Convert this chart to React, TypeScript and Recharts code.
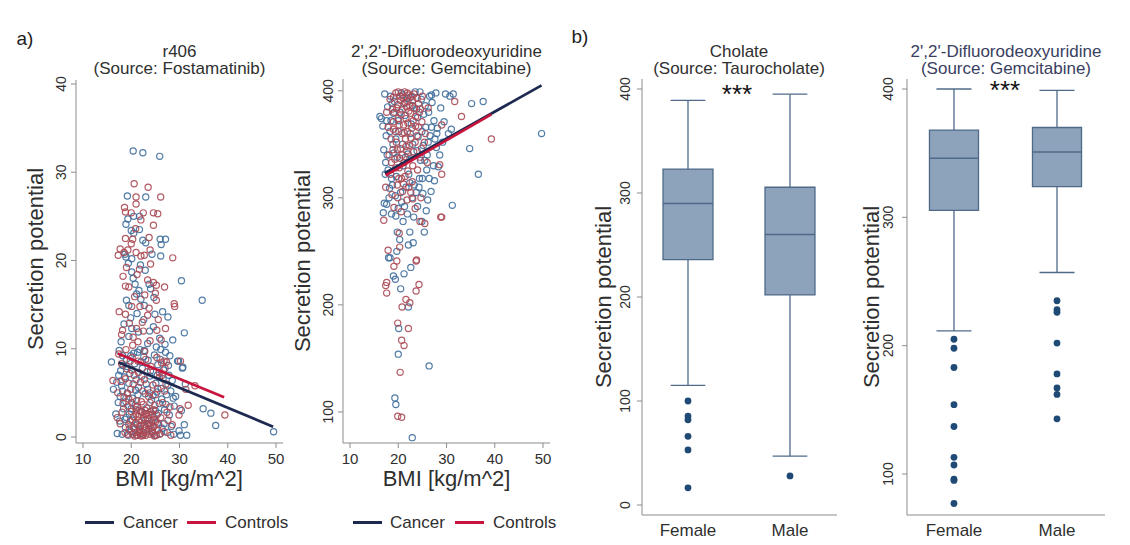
import React from 'react';
import { ComposedChart, Scatter, XAxis, YAxis, ReferenceArea, ReferenceLine } from 'recharts';

const FONT = '"Liberation Sans", Arial, Helvetica, sans-serif';
const TEXT = '#2f2f2f';
const AXIS = '#8c8c8c';
const BLUE_PT = '#3f6e9c';
const RED_PT = '#aa4954';
const NAVY = '#1d2950';
const CRIMSON = '#c8153d';
const BOX_FILL = '#8ca3bb';
const BOX_EDGE = '#4f6a88';
const OUTLIER = '#1f4a76';

type Pt = [number, number];

// ---------- tick labels / categories ----------
const bmiTicks = [10, 20, 30, 40, 50];
const r406Ticks = [0, 10, 20, 30, 40];
const gemScatterTicks = [100, 200, 300, 400];
const cholTicks = [0, 100, 200, 300, 400];
const gemBoxTicks = [100, 200, 300, 400];
const sexCategories = ['Female', 'Male'];
const seriesNames = ['Cancer', 'Controls'];

// ---------- panel a, left: r406 vs BMI ----------
const r406Cancer: Pt[] = [
  [20.4, 32.4], [22.4, 32.2], [25.9, 31.8],
  [19.2, 27.3], [23.0, 27.2], [20.5, 25.0], [19.3, 24.7], [21.7, 25.0], [18.9, 24.1], [20.0, 23.4], [21.7, 23.5],
  [20.5, 23.1], [22.4, 22.3], [26.0, 22.4], [27.1, 22.4], [23.0, 22.0], [26.2, 21.8], [18.7, 20.7], [24.3, 20.7],
  [26.1, 20.5], [18.9, 20.4], [20.1, 20.2],
  [19.4, 19.7], [20.1, 18.7], [20.4, 18.0], [23.7, 17.3], [30.4, 17.7], [21.6, 16.6], [21.1, 16.2], [24.7, 15.8],
  [34.7, 15.5], [19.5, 14.9], [22.7, 14.9], [21.2, 14.0], [22.6, 13.3], [27.6, 13.6], [20.1, 12.3], [24.6, 12.5],
  [31.0, 11.8], [19.5, 11.4], [28.6, 11.0], [23.4, 10.6], [25.2, 10.2],
  [15.9, 8.5], [16.3, 5.4], [29.8, 8.6], [30.7, 7.9], [29.6, 8.6], [30.6, 7.8], [31.2, 6.0], [34.9, 3.2], [36.5, 2.7],
  [37.5, 1.3], [49.5, 0.6], [28.9, 3.5], [30.4, 3.0], [31.0, 1.4], [29.9, 0.7], [31.5, 0.2], [30.2, 0.2], [29.2, 4.6],
  [17.5, 9.8], [18.2, 9.2], [19.0, 8.8], [20.5, 9.5], [21.8, 9.9], [22.6, 9.1], [23.5, 8.7], [24.8, 9.3], [25.5, 8.2],
  [26.7, 7.6], [27.8, 7.0], [28.5, 6.4], [17.8, 7.5], [18.6, 6.8], [19.7, 7.2], [21.0, 6.5], [22.3, 7.8], [23.9, 6.9],
  [25.1, 6.1], [26.2, 5.5], [27.3, 4.8], [18.0, 5.8], [19.2, 5.0], [20.3, 4.4], [21.5, 5.6], [22.9, 4.9], [24.2, 4.2],
  [25.8, 3.8], [26.9, 3.1], [27.9, 2.5], [17.3, 3.9], [18.4, 3.2], [19.6, 2.6], [20.8, 3.6], [22.0, 2.9], [23.2, 3.3],
  [24.6, 2.2], [25.4, 1.6], [26.4, 1.0], [27.5, 0.5], [17.6, 1.8], [18.8, 1.1], [20.0, 0.6], [21.2, 1.4], [22.5, 0.3],
  [23.7, 0.9], [24.9, 0.2], [26.0, 0.4], [28.3, 1.2], [28.8, 0.3], [17.1, 0.4], [19.4, 0.2], [21.7, 0.8], [23.0, 1.9],
  [25.6, 2.7], [26.6, 6.6], [27.1, 9.6], [28.2, 5.2], [18.3, 8.1], [20.7, 8.3],
  [18.1, 0.3], [19.0, 2.2], [20.2, 1.9], [21.1, 0.2], [26.8, 1.5], [27.2, 3.7], [25.3, 5.1], [24.0, 7.5], [22.0, 8.5],
  [19.9, 9.2], [21.3, 9.6], [23.1, 6.0], [17.0, 6.2], [16.8, 2.6], [27.7, 8.1], [26.1, 9.9], [28.7, 4.4], [18.9, 4.0],
  [20.9, 5.3], [24.5, 4.7],
  [18.5, 12.8], [19.9, 13.5], [21.5, 11.9], [23.8, 12.0], [25.9, 11.2], [22.0, 15.6], [24.0, 16.8], [20.8, 17.3],
  [22.9, 18.9], [19.0, 15.5], [26.5, 14.2], [21.9, 19.5], [17.9, 10.8], [24.9, 13.9], [27.0, 10.5],
  [17.7, 4.6], [18.7, 2.0], [19.5, 6.1], [20.6, 0.9], [21.4, 4.8], [22.2, 6.9], [23.4, 5.4], [24.3, 0.5], [25.0, 3.0],
  [26.3, 4.3], [27.6, 5.9], [19.1, 8.0], [22.7, 9.8], [25.4, 7.0], [26.0, 8.8], [28.0, 9.2], [20.0, 3.2], [23.6, 1.5],
  [17.4, 7.0], [18.2, 5.2],
];
const r406Controls: Pt[] = [
  [20.6, 28.7], [23.5, 28.3], [21.0, 27.2], [26.1, 27.2], [21.0, 26.4], [18.6, 26.0], [18.8, 25.5], [20.0, 25.4],
  [22.5, 25.4], [24.6, 25.4], [25.5, 25.3], [22.0, 24.6], [24.6, 24.0], [18.8, 22.5], [20.3, 22.4], [23.7, 22.6],
  [20.0, 21.9], [17.7, 21.3], [18.5, 20.9], [17.3, 20.6], [19.3, 21.2], [21.0, 20.9], [23.9, 21.2], [22.0, 20.5],
  [28.6, 20.3], [22.7, 20.6], [21.2, 18.4], [23.4, 17.8], [24.6, 17.5], [25.2, 17.2], [18.8, 17.1], [19.5, 17.0],
  [25.0, 16.3], [25.2, 15.5], [28.9, 15.1], [20.1, 14.8], [21.8, 14.8], [23.7, 14.6], [29.0, 14.8], [18.8, 13.9],
  [23.4, 13.8], [25.6, 13.3], [18.2, 12.1], [21.1, 12.3], [22.5, 12.0], [25.3, 12.1], [27.1, 12.3], [18.0, 11.6],
  [20.4, 11.3], [21.4, 10.8], [20.3, 10.4], [16.2, 6.4], [30.2, 8.6], [26.8, 8.6], [27.3, 8.5], [33.2, 5.8],
  [31.3, 5.4], [39.4, 2.5], [31.8, 3.6], [29.9, 2.5], [30.1, 3.2], [28.2, 0.2],
  [17.4, 9.4], [18.9, 9.9], [20.2, 9.0], [21.4, 8.6], [22.8, 9.7], [24.1, 8.0], [25.3, 9.0], [26.3, 8.4], [17.9, 6.3],
  [19.1, 7.7], [20.6, 7.0], [21.9, 6.2], [23.3, 7.4], [24.5, 5.9], [25.9, 6.8], [27.2, 6.0], [17.2, 5.0], [18.5, 4.5],
  [19.9, 5.4], [21.1, 4.1], [22.4, 5.2], [23.6, 4.6], [25.0, 4.8], [26.5, 3.9], [18.1, 2.8], [19.3, 3.5], [20.5, 2.3],
  [21.6, 3.0], [22.2, 1.9], [22.9, 2.6], [23.4, 1.5], [24.0, 2.9], [24.7, 1.2], [20.9, 1.6], [21.8, 0.9], [22.6, 0.5],
  [23.1, 1.1], [23.8, 0.3], [24.4, 0.7], [25.2, 0.2], [19.6, 0.9], [20.3, 0.3], [21.3, 0.2], [22.0, 1.3], [23.5, 2.1],
  [24.2, 1.8], [25.7, 1.4], [26.8, 0.6], [27.6, 1.9], [28.0, 3.4], [18.7, 0.5], [17.7, 1.5],
  [19.8, 1.8], [20.4, 1.1], [21.0, 2.6], [21.5, 1.9], [21.9, 0.4], [22.3, 2.8], [22.7, 1.4], [23.3, 0.6], [23.7, 2.5],
  [24.1, 1.0], [24.6, 3.1], [25.0, 1.7], [25.5, 0.8], [26.1, 2.2], [20.1, 3.9], [21.2, 3.4], [22.5, 3.7], [23.9, 3.9],
  [22.1, 0.1], [23.0, 0.2], [24.8, 0.1], [21.6, 0.6], [20.7, 0.1], [25.9, 0.3], [19.2, 0.3], [22.9, 3.0], [21.4, 2.3],
  [24.4, 2.6], [18.0, 8.3], [19.8, 8.6], [23.0, 8.8], [25.8, 7.3], [27.0, 7.8], [20.4, 6.0], [22.7, 6.5], [26.9, 5.2],
  [18.3, 3.8], [19.5, 4.3], [24.9, 3.6], [27.4, 2.8], [28.5, 1.4], [17.1, 2.2],
  [19.0, 19.2], [21.7, 19.0], [24.0, 19.6], [22.8, 16.1], [20.7, 15.9], [19.6, 12.9], [23.9, 10.9], [26.2, 11.0],
  [17.5, 14.2], [22.3, 13.0], [26.9, 17.0], [20.9, 23.6], [18.3, 18.2],
  [20.0, 2.9], [20.8, 0.5], [21.7, 1.2], [22.4, 0.2], [23.2, 2.6], [24.5, 0.4], [25.3, 2.5], [19.5, 1.4], [21.0, 3.1],
  [22.6, 2.2], [23.9, 1.3], [24.9, 2.0], [18.8, 6.6], [20.1, 7.6], [21.5, 7.3], [23.8, 5.0], [25.5, 5.5], [26.4, 7.0],
  [22.1, 4.0], [19.2, 4.9],
];
const r406CancerFit: Pt[] = [[17.4, 8.45], [49.4, 1.17]];
const r406ControlsFit: Pt[] = [[17.2, 9.45], [39.25, 4.5]];

// ---------- panel a, right: 2',2'-Difluorodeoxyuridine vs BMI ----------
const gemCancer: Pt[] = [
  [17.2, 397], [26.9, 396], [29.8, 397], [31.4, 397], [35.2, 388], [37.6, 390], [30.7, 395], [49.7, 360], [34.8, 346],
  [36.6, 322], [31.2, 293], [16.2, 376], [16.9, 286], [17.1, 295], [18.0, 244], [17.6, 294], [19.5, 283], [21.0, 278],
  [25.4, 268], [19.8, 268], [22.4, 268], [20.3, 261], [22.1, 256], [23.1, 258], [19.7, 250], [18.3, 244], [22.6, 235],
  [21.2, 229], [19.0, 227], [19.4, 224], [20.5, 215], [22.1, 198], [20.1, 178], [20.0, 154], [26.4, 143], [19.3, 113],
  [19.5, 107], [22.9, 76], [31.0, 364], [28.3, 329], [27.5, 316],
  [17.8, 385], [18.5, 372], [19.2, 390], [20.6, 398], [21.9, 393], [23.5, 399], [24.8, 392], [25.6, 386], [26.3, 380],
  [27.4, 372], [28.1, 365], [16.8, 367], [17.5, 358], [18.9, 350], [20.1, 362], [21.4, 377], [22.7, 369], [24.1, 357],
  [25.2, 349], [26.6, 358], [27.9, 347], [17.4, 333], [17.9, 326], [18.6, 318], [19.8, 338], [21.0, 330], [22.2, 322],
  [23.3, 312], [24.6, 335], [25.9, 326], [26.8, 306], [28.6, 340], [18.2, 309], [19.4, 302], [20.7, 296], [21.6, 310],
  [22.9, 300], [24.0, 292], [25.1, 304], [26.1, 298], [17.0, 345], [23.8, 383], [20.9, 350], [19.0, 379], [22.0, 341],
  [24.4, 318], [25.7, 366], [18.4, 395], [27.0, 389], [16.5, 374],
  [21.2, 388], [22.5, 394], [24.5, 399], [20.0, 372], [23.0, 350], [26.0, 340], [27.3, 330], [25.0, 318], [19.6, 320],
  [18.1, 300], [21.9, 285], [23.7, 305], [24.9, 278], [20.4, 380], [26.5, 395], [27.8, 398], [28.8, 384], [29.5, 371],
  [30.4, 360], [27.6, 355],
  [17.6, 372], [18.7, 388], [20.9, 396], [23.0, 386], [24.0, 375], [25.3, 378], [26.9, 366], [18.3, 362], [19.5, 355],
  [22.5, 360], [24.9, 362], [26.2, 352], [17.7, 340], [19.1, 342], [21.5, 338], [23.9, 344], [25.5, 335], [17.3, 322],
  [18.8, 312], [20.5, 305], [22.4, 314], [24.3, 310], [26.4, 318], [21.3, 292], [23.2, 282], [18.6, 285], [20.0, 290],
  [25.8, 288], [28.0, 360], [29.2, 352],
];
const gemControls: Pt[] = [
  [33.1, 376], [31.7, 390], [39.3, 355], [29.0, 322], [29.0, 282], [17.0, 279], [17.9, 251], [23.8, 242], [28.8, 282],
  [24.5, 278], [25.5, 276], [20.2, 267], [20.3, 254], [23.7, 241], [19.7, 241], [19.1, 236], [17.6, 221], [17.4, 218],
  [17.6, 211], [24.3, 219], [23.7, 213], [21.6, 205], [22.4, 202], [20.8, 198], [19.9, 183], [22.1, 178], [20.7, 167],
  [21.2, 162], [20.4, 137], [19.9, 96], [20.7, 95], [29.0, 368], [28.6, 331],
  [18.3, 392], [19.5, 398], [20.4, 395], [21.3, 399], [22.1, 396], [23.0, 391], [24.2, 388], [25.0, 395], [17.6, 380],
  [18.8, 383], [19.9, 387], [20.8, 382], [21.7, 385], [22.6, 379], [23.6, 376], [24.9, 371], [26.2, 384], [17.9, 366],
  [19.0, 371], [20.0, 374], [21.1, 368], [21.9, 362], [22.8, 365], [23.9, 358], [25.4, 352], [18.5, 355], [19.6, 352],
  [20.5, 346], [21.5, 355], [22.3, 349], [23.2, 343], [24.5, 338], [26.0, 333], [18.1, 340], [19.3, 336], [20.2, 328],
  [21.2, 333], [22.0, 325], [23.0, 330], [17.4, 310], [18.7, 303], [19.8, 312], [20.9, 306], [21.8, 298], [22.6, 305],
  [23.5, 290], [24.7, 300], [19.1, 291], [20.6, 287], [18.4, 322],
  [19.2, 380], [20.5, 391], [21.6, 374], [22.4, 386], [23.3, 397], [20.8, 360], [21.8, 344], [22.6, 356], [19.4, 362],
  [20.3, 337], [23.6, 367], [24.4, 380], [21.4, 320], [22.9, 315], [19.9, 300], [20.7, 318], [18.9, 345], [25.6, 360],
  [24.0, 326], [22.0, 390],
  [19.0, 394], [20.0, 399], [21.0, 393], [21.9, 398], [22.8, 395], [23.9, 393], [19.7, 384], [20.6, 378], [21.4, 389],
  [22.2, 381], [23.2, 384], [24.6, 383], [19.0, 364], [20.2, 368], [21.2, 361], [22.0, 370], [23.1, 372], [24.2, 366],
  [19.8, 345], [20.8, 340], [21.6, 348], [22.4, 337], [23.5, 352], [24.8, 346], [20.1, 318], [21.1, 313], [22.2, 310],
  [23.0, 299], [19.5, 328], [18.6, 333],
];
const gemCancerFit: Pt[] = [[17.2, 323], [49.7, 405]];
const gemControlsFit: Pt[] = [[17.4, 321], [39.3, 378]];

// ---------- panel b: box plots by sex ----------
const cholMin = [115, 47];
const cholQ1 = [236, 202];
const cholMedian = [290, 260];
const cholQ3 = [323, 305.5];
const cholMax = [389, 395];
const cholOutliers: Pt[] = [[1, 100], [1, 85.5], [1, 82], [1, 66], [1, 53], [1, 16.5], [2, 28]];

const gemBoxMin = [211.5, 257];
const gemBoxQ1 = [305.5, 324];
const gemBoxMedian = [346, 351];
const gemBoxQ3 = [368, 370];
const gemBoxMax = [400, 399];
const gemBoxOutliers: Pt[] = [
  [1, 205], [1, 198], [1, 183], [1, 154], [1, 137], [1, 113], [1, 107], [1, 96], [1, 95], [1, 77],
  [2, 235], [2, 228], [2, 226], [2, 202], [2, 178], [2, 167], [2, 162], [2, 143],
];

// ---------- helpers ----------
const toXY = (arr: Pt[]) => arr.map(([x, y]) => ({ x, y }));
const NoShape = () => <g />;
const hollow = (color: string) => (p: any) =>
  p.cx == null ? <g /> : (
    <circle cx={p.cx} cy={p.cy} r={3.1} fill="none" stroke={color} strokeWidth={1.2} strokeOpacity={0.9} />
  );
const filled = (p: any) => (p.cx == null ? <g /> : <circle cx={p.cx} cy={p.cy} r={3.4} fill={OUTLIER} />);

const rotTick = (shift: number) => (props: any) => {
  const { x, y, payload } = props;
  return (
    <text
      x={0}
      y={0}
      transform={`translate(${x - shift},${y}) rotate(-90)`}
      textAnchor="middle"
      fontSize={14}
      fill={TEXT}
      fontFamily={FONT}
    >
      {payload.value}
    </text>
  );
};

function Txt(props: {
  x: number; y: number; size: number; color?: string; rotate?: boolean; anchor?: 'middle' | 'start'; children: React.ReactNode;
}) {
  const { x, y, size, color = TEXT, rotate = false, anchor = 'middle', children } = props;
  const tx = anchor === 'middle' ? '-50%' : '0';
  return (
    <div
      style={{
        position: 'absolute',
        left: x,
        top: y,
        fontSize: size,
        lineHeight: 1,
        color,
        whiteSpace: 'nowrap',
        fontFamily: FONT,
        transform: `translate(${tx},-50%)${rotate ? ' rotate(-90deg)' : ''}`,
        transformOrigin: anchor === 'middle' ? 'center center' : 'left center',
      }}
    >
      {children}
    </div>
  );
}

function LegendRow({ x1, x2, x3, x4 }: { x1: number; x2: number; x3: number; x4: number }) {
  const y = 522;
  const line = (left: number, color: string) => (
    <div style={{ position: 'absolute', left, top: y - 1.5, width: 29, height: 3, background: color }} />
  );
  return (
    <>
      {line(x1, NAVY)}
      <Txt x={x2} y={y} size={17} anchor="start">{seriesNames[0]}</Txt>
      {line(x3, CRIMSON)}
      <Txt x={x4} y={y} size={17} anchor="start">{seriesNames[1]}</Txt>
    </>
  );
}

function ScatterPanel(props: {
  width: number; margin: any; yDomain: [number, number]; yTicks: number[]; shift: number;
  cancer: Pt[]; controls: Pt[]; cancerFit: Pt[]; controlsFit: Pt[];
}) {
  const { width, margin, yDomain, yTicks, shift, cancer, controls, cancerFit, controlsFit } = props;
  return (
    <ComposedChart width={width} height={545} margin={margin}>
      <XAxis
        type="number" dataKey="x" domain={[8.55, 51.45]} ticks={bmiTicks} allowDataOverflow interval={0}
        stroke={AXIS} tickSize={5} tickMargin={5} height={40}
        tick={{ fill: TEXT, fontSize: 15, fontFamily: FONT }}
      />
      <YAxis
        type="number" dataKey="y" domain={yDomain} ticks={yTicks} allowDataOverflow interval={0}
        stroke={AXIS} tickSize={5} tickMargin={2} width={40} tick={rotTick(shift)}
      />
      <Scatter data={toXY(cancer)} shape={hollow(BLUE_PT)} fill={BLUE_PT} isAnimationActive={false} />
      <Scatter data={toXY(controls)} shape={hollow(RED_PT)} fill={RED_PT} isAnimationActive={false} />
      <Scatter
        name={seriesNames[0]} data={toXY(cancerFit)} fill={NAVY} shape={NoShape}
        line={{ stroke: NAVY, strokeWidth: 2.7 }} isAnimationActive={false}
      />
      <Scatter
        name={seriesNames[1]} data={toXY(controlsFit)} fill={CRIMSON} shape={NoShape}
        line={{ stroke: CRIMSON, strokeWidth: 2.7 }} isAnimationActive={false}
      />
    </ComposedChart>
  );
}

function BoxPanel(props: {
  width: number; margin: any; yDomain: [number, number]; yTicks: number[]; xDomain: [number, number]; shift: number;
  mins: number[]; q1s: number[]; medians: number[]; q3s: number[]; maxs: number[]; outliers: Pt[]; half: number;
}) {
  const { width, margin, yDomain, yTicks, xDomain, shift, mins, q1s, medians, q3s, maxs, outliers, half } = props;
  const cap = 0.17;
  const els: React.ReactNode[] = [];
  sexCategories.forEach((_, i) => {
    const c = i + 1;
    els.push(
      <ReferenceLine key={`wl${i}`} segment={[{ x: c, y: mins[i] }, { x: c, y: q1s[i] }]} stroke={BOX_EDGE} strokeWidth={1.3} />,
      <ReferenceLine key={`wu${i}`} segment={[{ x: c, y: q3s[i] }, { x: c, y: maxs[i] }]} stroke={BOX_EDGE} strokeWidth={1.3} />,
      <ReferenceLine key={`cl${i}`} segment={[{ x: c - cap, y: mins[i] }, { x: c + cap, y: mins[i] }]} stroke={BOX_EDGE} strokeWidth={1.3} />,
      <ReferenceLine key={`cu${i}`} segment={[{ x: c - cap, y: maxs[i] }, { x: c + cap, y: maxs[i] }]} stroke={BOX_EDGE} strokeWidth={1.3} />,
      <ReferenceArea
        key={`bx${i}`} x1={c - half} x2={c + half} y1={q1s[i]} y2={q3s[i]}
        fill={BOX_FILL} fillOpacity={1} stroke={BOX_EDGE} strokeWidth={1.3} strokeOpacity={1}
      />,
      <ReferenceLine key={`md${i}`} segment={[{ x: c - half, y: medians[i] }, { x: c + half, y: medians[i] }]} stroke={BOX_EDGE} strokeWidth={1.5} />,
    );
  });
  return (
    <ComposedChart width={width} height={545} margin={margin}>
      <XAxis
        type="number" dataKey="x" domain={xDomain} ticks={[1, 2]} allowDataOverflow interval={0}
        tickFormatter={(v: number) => sexCategories[v - 1]}
        stroke={AXIS} tickSize={0} tickMargin={9} height={30}
        tick={{ fill: TEXT, fontSize: 17, fontFamily: FONT }}
      />
      <YAxis
        type="number" dataKey="y" domain={yDomain} ticks={yTicks} allowDataOverflow interval={0}
        stroke={AXIS} tickSize={5} tickMargin={2} width={40} tick={rotTick(shift)}
      />
      {els}
      <Scatter data={toXY(outliers)} shape={filled} fill={OUTLIER} isAnimationActive={false} />
    </ComposedChart>
  );
}

export default function App() {
  return (
    <div style={{ position: 'absolute', left: 0, top: 0, width: 1130, height: 545, background: '#fff', fontFamily: FONT, overflow: 'hidden' }}>
      <div style={{ position: 'absolute', left: 0, top: 0 }}>
        <ScatterPanel
          width={290} margin={{ top: 80, right: 7, bottom: 62, left: 36 }}
          yDomain={[-0.68, 40.45]} yTicks={r406Ticks} shift={3}
          cancer={r406Cancer} controls={r406Controls} cancerFit={r406CancerFit} controlsFit={r406ControlsFit}
        />
      </div>
      <div style={{ position: 'absolute', left: 290, top: 0 }}>
        <ScatterPanel
          width={280} margin={{ top: 79, right: 20, bottom: 62, left: 13 }}
          yDomain={[71, 411]} yTicks={gemScatterTicks} shift={3}
          cancer={gemCancer} controls={gemControls} cancerFit={gemCancerFit} controlsFit={gemControlsFit}
        />
      </div>
      <div style={{ position: 'absolute', left: 570, top: 0 }}>
        <BoxPanel
          width={280} margin={{ top: 79, right: 13, bottom: 0, left: 32 }}
          yDomain={[-9.6, 409.6]} yTicks={cholTicks} xDomain={[0.549, 2.461]} shift={5}
          mins={cholMin} q1s={cholQ1} medians={cholMedian} q3s={cholQ3} maxs={cholMax} outliers={cholOutliers} half={0.245}
        />
      </div>
      <div style={{ position: 'absolute', left: 850, top: 0 }}>
        <BoxPanel
          width={280} margin={{ top: 79, right: 25, bottom: 0, left: 17 }}
          yDomain={[68.05, 407.8]} yTicks={gemBoxTicks} xDomain={[0.544, 2.466]} shift={7.5}
          mins={gemBoxMin} q1s={gemBoxQ1} medians={gemBoxMedian} q3s={gemBoxQ3} maxs={gemBoxMax} outliers={gemBoxOutliers} half={0.238}
        />
      </div>

      {/* panel letters */}
      <Txt x={25} y={38} size={19} color="#222">a)</Txt>
      <Txt x={580} y={36} size={19} color="#222">b)</Txt>

      {/* titles */}
      <Txt x={179.5} y={50.5} size={17}>r406</Txt>
      <Txt x={179.5} y={68} size={17}>(Source: Fostamatinib)</Txt>
      <Txt x={446.5} y={50.5} size={17}>2',2'-Difluorodeoxyuridine</Txt>
      <Txt x={446.5} y={68} size={17}>(Source: Gemcitabine)</Txt>
      <Txt x={739} y={50.5} size={17}>Cholate</Txt>
      <Txt x={739} y={68} size={17}>(Source: Taurocholate)</Txt>
      <Txt x={1006} y={50.5} size={17} color="#39405f">2',2'-Difluorodeoxyuridine</Txt>
      <Txt x={1006} y={68} size={17} color="#39405f">(Source: Gemcitabine)</Txt>

      {/* significance stars */}
      <Txt x={737} y={94} size={26} color="#111">***</Txt>
      <Txt x={1005} y={90} size={26} color="#111">***</Txt>

      {/* y-axis titles */}
      <Txt x={36} y={259} size={22} rotate>Secretion potential</Txt>
      <Txt x={303} y={261} size={22} rotate>Secretion potential</Txt>
      <Txt x={604} y={297} size={22} rotate>Secretion potential</Txt>
      <Txt x={872} y={297} size={22} rotate>Secretion potential</Txt>

      {/* x-axis titles */}
      <Txt x={179} y={479} size={22}>BMI [kg/m^2]</Txt>
      <Txt x={446.5} y={479} size={22}>BMI [kg/m^2]</Txt>

      {/* legends */}
      <LegendRow x1={85} x2={123} x3={187} x4={225} />
      <LegendRow x1={353} x2={390} x3={455} x4={493} />
    </div>
  );
}
